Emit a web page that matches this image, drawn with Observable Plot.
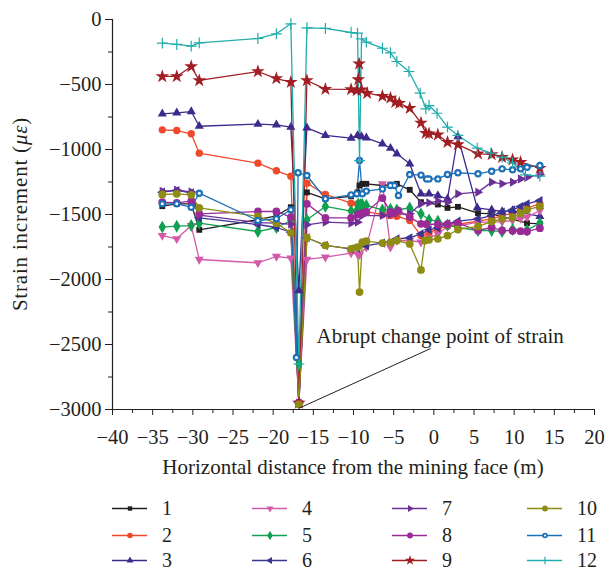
<!DOCTYPE html>
<html><head><meta charset="utf-8">
<script src="https://cdn.jsdelivr.net/npm/d3@7"></script>
<script src="https://cdn.jsdelivr.net/npm/@observablehq/plot@0.6"></script>
<style>
body{margin:0;background:#fff;font-family:"Liberation Serif","DejaVu Serif",serif;}
#chart svg{display:block;}
#legend{position:relative;height:85px;width:607px;}
.item{position:absolute;display:flex;align-items:center;height:18px;line-height:18px;font-size:20px;color:#231f20;}
.item svg{display:block;}
.item span{margin-left:15px;}
</style></head><body><div id="chart"></div><div id="legend"></div>
<script>
// ---------- data: [distance (m), strain increment (με)] ----------
const seriesNames = ["1","2","3","4","5","6","7","8","9","10","11","12"];
const seriesColors = ["#231f20","#ef4a2c","#3e2a8c","#d35aa8","#10a050","#3a3592","#6b2f96","#9a2a96","#a01e24","#8e8c12","#1c70b8","#22adad"];

const s1 = [[-33.8,-1436],[-32,-1418],[-30.2,-1418],[-29.2,-1618],[-21.9,-1540],[-19.6,-1510],[-17.8,-1444],[-16.8,-2950],[-15.8,-1330],[-13.5,-1379],[-10.3,-1360],[-9.5,-1330],[-9.25,-1277],[-8.9,-1264],[-8.4,-1264],[-6.4,-1277],[-5.4,-1270],[-4.6,-1264],[-3.0,-1310],[-1.6,-1405],[0.5,-1423],[1.7,-1449],[3.0,-1441],[5.5,-1490],[7.2,-1495],[11.6,-1567],[13.2,-1572]];
const s2 = [[-33.8,-849],[-32,-854],[-30.2,-879],[-29.2,-1028],[-21.9,-1105],[-19.6,-1164],[-17.8,-1205],[-16.8,-2950],[-15.8,-1259],[-13.5,-1346],[-10.3,-1413],[-9.5,-1418],[-9.0,-1460],[-8.4,-1480],[-6.4,-1500],[-5.4,-1508],[-4.6,-1513],[-3.0,-1546],[-1.6,-1662],[-0.6,-1640],[0.5,-1610],[1.7,-1590],[3.0,-1575],[5.5,-1551],[7.2,-1533],[8.5,-1510],[9.8,-1490],[10.8,-1470],[11.6,-1450],[13.2,-1418]];
const s3 = [[-33.8,-726],[-32,-718],[-30.2,-708],[-29.2,-821],[-21.9,-805],[-19.6,-810],[-17.8,-828],[-16.8,-2085],[-15.8,-833],[-13.5,-892],[-10.3,-913],[-9.5,-892],[-9.0,-900],[-8.4,-910],[-6.4,-956],[-5.4,-990],[-4.6,-1033],[-3.0,-1110],[-1.6,-1341],[-0.6,-1341],[0.5,-1354],[1.7,-1379],[3.0,-900],[5.4,-1449],[7.2,-1464],[8.5,-1477],[9.8,-1470],[13.2,-1515]];
const s4 = [[-33.8,-1662],[-32,-1687],[-30.2,-1585],[-29.2,-1846],[-21.9,-1872],[-19.6,-1823],[-17.8,-1836],[-16.8,-2950],[-15.8,-1846],[-13.5,-1828],[-10.3,-1797],[-9.5,-1803],[-9.25,-1810],[-8.4,-1751],[-6.4,-1264],[-5.4,-1751],[-4.6,-1700],[-3.0,-1700],[-1.6,-1713],[-0.6,-1680],[0.5,-1650],[1.7,-1592],[3.0,-1590],[5.5,-1559],[7.2,-1559],[8.5,-1555],[9.8,-1546],[10.8,-1530],[11.6,-1520],[13.2,-1469]];
const s5 = [[-33.8,-1597],[-32,-1590],[-30.2,-1585],[-29.2,-1567],[-21.9,-1631],[-19.6,-1600],[-17.8,-1546],[-16.8,-2650],[-15.8,-1541],[-13.5,-1438],[-10.3,-1474],[-9.6,-1469],[-9.4,-1418],[-9.1,-1423],[-8.9,-1423],[-8.4,-1430],[-6.4,-1464],[-5.4,-1460],[-4.6,-1464],[-3.0,-1450],[-1.6,-1495],[-0.6,-1541],[0.5,-1551],[1.7,-1580],[3.0,-1600],[5.5,-1623],[7.2,-1623],[8.5,-1631],[9.8,-1615],[11.6,-1620],[13.2,-1567]];
const s6 = [[-33.8,-1328],[-32,-1315],[-30.2,-1333],[-29.2,-1526],[-21.9,-1577],[-19.6,-1600],[-17.8,-1636],[-16.8,-2950],[-15.8,-1679],[-13.5,-1738],[-10.3,-1764],[-9.5,-1760],[-8.4,-1740],[-6.4,-1720],[-4.6,-1687],[-3.0,-1679],[-1.6,-1649],[-0.6,-1618],[0.5,-1603],[1.7,-1572],[3.0,-1551],[5.5,-1533],[7.2,-1508],[8.5,-1482],[9.8,-1464],[10.8,-1438],[11.6,-1418],[13.2,-1392]];
const s7 = [[-33.8,-1322],[-32,-1312],[-30.2,-1326],[-29.2,-1505],[-21.9,-1562],[-19.6,-1566],[-17.8,-1575],[-16.8,-2950],[-15.8,-1579],[-13.5,-1559],[-10.3,-1567],[-9.5,-1559],[-8.9,-1508],[-6.4,-1508],[-5.4,-1500],[-3.0,-1495],[-1.6,-1418],[-0.6,-1410],[0.5,-1397],[1.7,-1405],[3.0,-1341],[5.5,-1328],[7.2,-1251],[8.5,-1264],[9.8,-1251],[10.8,-1226],[11.6,-1215],[13.2,-1192]];
const s8 = [[-33.8,-1405],[-32,-1410],[-30.2,-1397],[-29.2,-1495],[-21.9,-1477],[-19.6,-1477],[-17.8,-1520],[-16.8,-2950],[-15.8,-1418],[-13.5,-1526],[-10.3,-1526],[-9.5,-1500],[-9.25,-1495],[-8.9,-1490],[-8.4,-1480],[-6.4,-1374],[-5.4,-1480],[-4.9,-1490],[-4.4,-1470],[-3.0,-1520],[-1.6,-1572],[-0.9,-1575],[0.5,-1575],[1.7,-1575],[3.0,-1567],[5.5,-1623],[7.2,-1600],[8.5,-1623],[9.8,-1625],[10.8,-1628],[11.6,-1631],[13.2,-1605]];
const s9 = [[-33.8,-438],[-32,-438],[-30.2,-362],[-29.2,-469],[-21.9,-400],[-19.6,-454],[-17.8,-482],[-16.8,-2950],[-15.8,-469],[-13.5,-536],[-10.3,-538],[-9.6,-546],[-9.4,-462],[-9.3,-341],[-9.0,-541],[-8.3,-567],[-6.4,-590],[-5.4,-603],[-4.8,-636],[-4.3,-644],[-3.0,-682],[-1.6,-795],[-1.0,-874],[-0.6,-879],[0.5,-887],[1.7,-944],[3.0,-962],[5.5,-1033],[7.2,-1038],[8.5,-1059],[9.8,-1079],[10.8,-1097],[13.2,-1144]];
const s10 = [[-33.8,-1346],[-32,-1341],[-30.2,-1349],[-29.2,-1449],[-21.9,-1515],[-19.6,-1567],[-17.8,-1641],[-16.8,-2960],[-15.8,-1679],[-13.5,-1738],[-10.3,-1764],[-9.5,-1751],[-9.25,-2097],[-8.9,-1713],[-8.4,-1705],[-6.4,-1720],[-5.4,-1715],[-4.6,-1700],[-3.0,-1726],[-1.6,-1926],[-1.1,-1700],[-0.6,-1695],[0.5,-1687],[1.7,-1662],[3.0,-1615],[5.5,-1592],[7.2,-1554],[8.5,-1533],[9.8,-1523],[10.8,-1490],[11.6,-1464],[13.2,-1438]];
const s11 = [[-33.8,-1418],[-32,-1418],[-30.2,-1444],[-29.2,-1336],[-21.9,-1546],[-19.6,-1533],[-17.8,-1464],[-17.1,-2600],[-16.9,-1179],[-15.8,-1200],[-13.5,-1379],[-10.3,-1349],[-9.6,-1341],[-9.25,-1085],[-8.9,-1341],[-8.4,-1320],[-6.4,-1303],[-5.4,-1277],[-4.9,-1277],[-4.4,-1354],[-3.0,-1192],[-1.6,-1197],[-0.9,-1226],[-0.6,-1226],[0.5,-1226],[1.7,-1192],[3.0,-1179],[5.5,-1187],[7.2,-1167],[8.5,-1149],[9.8,-1156],[10.8,-1149],[11.6,-1136],[13.2,-1123]];
const s12 = [[-33.8,-182],[-32,-192],[-30.2,-205],[-29.2,-180],[-21.9,-146],[-19.6,-110],[-17.8,-33],[-16.8,-2650],[-15.8,-64],[-13.5,-69],[-10.3,-100],[-9.5,-105],[-9.25,-1085],[-9.0,-149],[-8.4,-174],[-6.4,-221],[-5.4,-256],[-4.6,-323],[-3.1,-400],[-1.7,-567],[-1.0,-687],[-0.6,-662],[0.4,-721],[1.7,-828],[3.0,-892],[5.4,-990],[7.1,-1028],[8.5,-1059],[9.8,-1103],[11.4,-1195],[13.2,-1205]];
const seriesData = [s1,s2,s3,s4,s5,s6,s7,s8,s9,s10,s11,s12];

const xTicks = d3.range(-40, 21, 5);
const xMinorTicks = d3.range(-37.5, 20, 5);
const yTicks = d3.range(-3000, 1, 500);
const yMinorTicks = d3.range(-2750, 0, 500);

const xTitle = "Horizontal distance from the mining face (m)";
const yTitleParts = [["Strain increment (", false], ["με", true], [")", false]];
const annotText = ["Abrupt change point of strain"];
const annotLink = {x1: [-16.85], y1: [-2992], x2: [-0.4], y2: [-2531]};
const annotPos = {x: [-14.6], y: [-2435]};

// ---------- custom marker symbols ----------
function tri(angle) {
  return {draw(ctx, size) {
    const r = Math.sqrt(size) / 1.45;
    for (let k = 0; k < 3; k++) {
      const a = angle + k * 2 * Math.PI / 3;
      const px = r * Math.cos(a), py = r * Math.sin(a);
      k === 0 ? ctx.moveTo(px, py) : ctx.lineTo(px, py);
    }
    ctx.closePath();
  }};
}
const symUp = tri(-Math.PI / 2), symDown = tri(Math.PI / 2), symLeft = tri(Math.PI), symRight = tri(0);
const symbols = ["square","circle",symUp,symDown,"diamond",symLeft,symRight,"circle","star","circle","circle","plus"];
const sizes = [3.3,3.7,4.3,4.3,3.9,4.3,4.3,3.9,4.3,3.9,3.7,3.6];

const marks = [];
seriesData.forEach((s, i) => {
  const rows = s.map(([x, y]) => ({x, y}));
  marks.push(Plot.line(rows, {x: "x", y: "y", stroke: seriesColors[i], strokeWidth: 1.3}));
});
seriesData.forEach((s, i) => {
  const rows = s.map(([x, y]) => ({x, y}));
  if (i === 10) {
    marks.push(Plot.dot(rows, {x: "x", y: "y", r: sizes[i], fill: seriesColors[i], stroke: "none"}));
    marks.push(Plot.dot(rows, {x: "x", y: "y", r: 1.5, fill: "white", stroke: "none"}));
  } else if (i === 11) {
    marks.push(Plot.dot(rows, {x: "x", y: "y", r: sizes[i], symbol: "plus", fill: "none", stroke: seriesColors[i], strokeWidth: 1.2}));
  } else {
    marks.push(Plot.dot(rows, {x: "x", y: "y", r: sizes[i], symbol: symbols[i], fill: seriesColors[i], stroke: "none"}));
  }
});

const W = 607, H = 485;
const chart = Plot.plot({
  width: W, height: H,
  marginLeft: 112, marginRight: 13, marginTop: 19, marginBottom: 76,
  style: {fontFamily: "'Liberation Serif', serif", fontSize: "20px", color: "#231f20", background: "white", overflow: "visible"},
  x: {domain: [-40, 20]},
  y: {domain: [-3000, 0]},
  marks: [
    Plot.axisX({ticks: xMinorTicks, tickSize: 4, text: null, label: null}),
    Plot.axisX({ticks: xTicks, tickSize: 6, tickPadding: 14, fontSize: 20.5, tickFormat: d3.format("d"), label: null}),
    Plot.axisY({ticks: yMinorTicks, tickSize: 4, text: null, label: null}),
    Plot.axisY({ticks: yTicks, tickSize: 7, tickPadding: 4, fontSize: 20.5, tickFormat: d3.format("d"), label: null}),
    Plot.ruleX([-40], {stroke: "#231f20", strokeWidth: 1.2}),
    Plot.ruleY([-3000], {stroke: "#231f20", strokeWidth: 1.2}),
    ...marks,
    Plot.link([0], {x1: annotLink.x1, y1: annotLink.y1, x2: annotLink.x2, y2: annotLink.y2, stroke: "#231f20", strokeWidth: 1}),
    Plot.text(annotText, {x: annotPos.x, y: annotPos.y, text: d => d, textAnchor: "start", fontSize: 21, fill: "#231f20"})
  ]
});
document.getElementById("chart").appendChild(chart);

// axis titles
const NS = "http://www.w3.org/2000/svg";
const xt = document.createElementNS(NS, "text");
xt.setAttribute("x", (112 + (W - 13)) / 2);
xt.setAttribute("y", 474);
xt.setAttribute("text-anchor", "middle");
xt.setAttribute("font-size", "21");
xt.setAttribute("fill", "#231f20");
xt.textContent = xTitle;
chart.appendChild(xt);

const yt = document.createElementNS(NS, "text");
yt.setAttribute("transform", "translate(27," + (19 + 409) / 2 + ") rotate(-90)");
yt.setAttribute("text-anchor", "middle");
yt.setAttribute("font-size", "21");
yt.setAttribute("letter-spacing", "0.8");
yt.setAttribute("fill", "#231f20");
for (const [s, it] of yTitleParts) {
  const ts = document.createElementNS(NS, "tspan");
  ts.textContent = s;
  if (it) ts.setAttribute("font-style", "italic");
  yt.appendChild(ts);
}
chart.appendChild(yt);

// ---------- legend ----------
const legend = document.getElementById("legend");
const colLeft = [112, 252, 392, 527];
const rowCenter = [508, 535, 560];
seriesNames.forEach((name, i) => {
  const col = Math.floor(i / 3), row = i % 3;
  const div = document.createElement("div");
  div.className = "item";
  div.style.left = colLeft[col] + "px";
  div.style.top = (rowCenter[row] - H - 9) + "px";
  const sw = Plot.plot({
    width: 35, height: 18, margin: 0, axis: null,
    x: {domain: [0, 35]}, y: {domain: [0, 18]},
    style: {background: "transparent", overflow: "visible"},
    marks: [
      Plot.ruleY([9], {x1: 0, x2: 35, stroke: seriesColors[i], strokeWidth: 1.3}),
      i === 10 ? Plot.dot([17.5], {x: d => d, y: 9, r: 2.8, fill: seriesColors[i], stroke: "none"})
      : i === 11 ? Plot.dot([17.5], {x: d => d, y: 9, r: 2.6, symbol: "plus", stroke: seriesColors[i], strokeWidth: 1.2})
      : Plot.dot([17.5], {x: d => d, y: 9, r: sizes[i] * 0.75, symbol: symbols[i], fill: seriesColors[i], stroke: "none"}),
      i === 10 ? Plot.dot([17.5], {x: d => d, y: 9, r: 1.1, fill: "white", stroke: "none"}) : null
    ]
  });
  div.appendChild(sw);
  const lab = document.createElement("span");
  lab.textContent = name;
  div.appendChild(lab);
  legend.appendChild(div);
});
</script>
</body></html>
